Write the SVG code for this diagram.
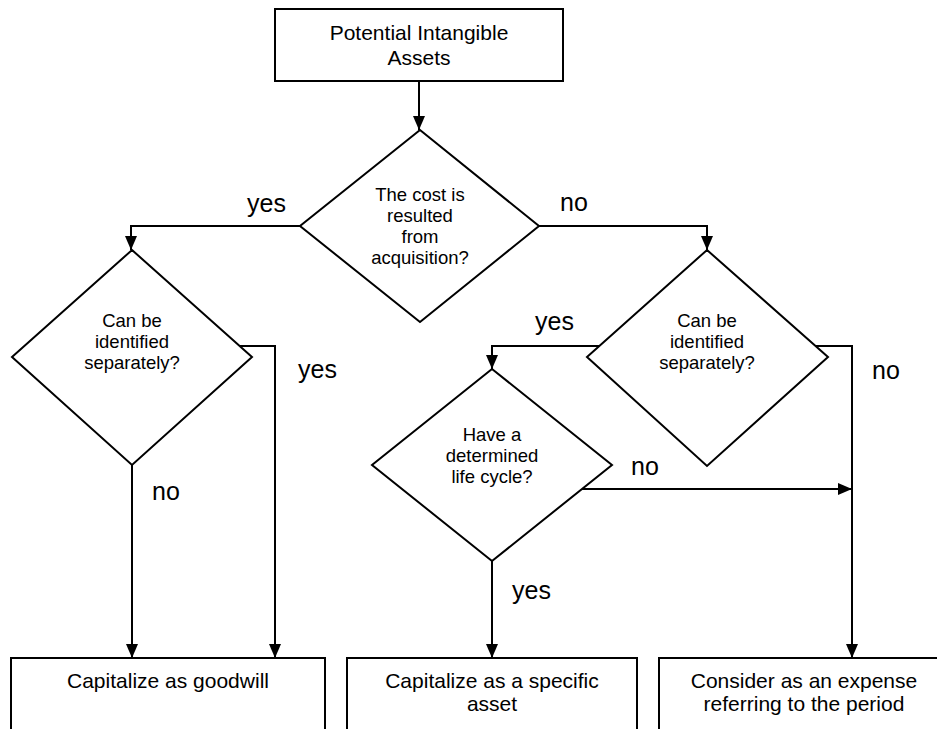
<svg xmlns="http://www.w3.org/2000/svg" width="937" height="729" viewBox="0 0 937 729">
<style>
.shape{fill:#fff;stroke:#000;stroke-width:2}
.conn{fill:none;stroke:#000;stroke-width:2}
text{font-family:"Liberation Sans",Arial,sans-serif;fill:#000;text-anchor:middle}
.dt{font-size:18.5px}
.bt{font-size:21px}
.lb{font-size:25px;text-anchor:start}
</style>
<defs>
<marker id="arr" markerUnits="userSpaceOnUse" markerWidth="14" markerHeight="12" refX="14" refY="6" orient="auto">
<path d="M0,0 L14,6 L0,12 Z" fill="#000"/>
</marker>
</defs>
<rect width="937" height="729" fill="#fff"/>
<g id="connectors">
<path class="conn" d="M419,81 V130" marker-end="url(#arr)"/>
<path class="conn" d="M300,226 H131 V250" marker-end="url(#arr)"/>
<path class="conn" d="M539,226 H707 V250" marker-end="url(#arr)"/>
<path class="conn" d="M132,465 V658" marker-end="url(#arr)"/>
<path class="conn" d="M240,346 H275 V658" marker-end="url(#arr)"/>
<path class="conn" d="M815,346 H852 V658" marker-end="url(#arr)"/>
<path class="conn" d="M599,346 H492 V369" marker-end="url(#arr)"/>
<path class="conn" d="M492,561 V658" marker-end="url(#arr)"/>
<path class="conn" d="M582,489 H852" marker-end="url(#arr)"/>
</g>
<g id="labels">
<text class="lb" x="247" y="212">yes</text>
<text class="lb" x="560" y="211">no</text>
<text class="lb" x="535" y="330">yes</text>
<text class="lb" x="298" y="378">yes</text>
<text class="lb" x="872" y="379">no</text>
<text class="lb" x="152" y="500">no</text>
<text class="lb" x="631" y="475">no</text>
<text class="lb" x="512" y="599">yes</text>
</g>
<g id="start">
<rect class="shape" x="275" y="9" width="288" height="72"/>
<text class="bt" x="419" y="40">Potential Intangible</text>
<text class="bt" x="419" y="65">Assets</text>
</g>
<g id="q-acquisition">
<polygon class="shape" points="420,130 539,226 420,322 300,226"/>
<text class="dt" x="420" y="200.5">The cost is</text>
<text class="dt" x="420" y="221.5">resulted</text>
<text class="dt" x="420" y="242.5">from</text>
<text class="dt" x="420" y="263.5">acquisition?</text>
</g>
<g id="q-identified-left">
<polygon class="shape" points="132,250 252,357 132,465 12,357"/>
<text class="dt" x="132" y="326.5">Can be</text>
<text class="dt" x="132" y="347.5">identified</text>
<text class="dt" x="132" y="368.5">separately?</text>
</g>
<g id="q-identified-right">
<polygon class="shape" points="707,250 828,357 707,466 587,357"/>
<text class="dt" x="707" y="326.5">Can be</text>
<text class="dt" x="707" y="347.5">identified</text>
<text class="dt" x="707" y="368.5">separately?</text>
</g>
<g id="q-lifecycle">
<polygon class="shape" points="492,369 612,465 492,561 372,465"/>
<text class="dt" x="492" y="440.5">Have a</text>
<text class="dt" x="492" y="461.5">determined</text>
<text class="dt" x="492" y="482.5">life cycle?</text>
</g>
<g id="goodwill">
<rect class="shape" x="11" y="658" width="314" height="90"/>
<text class="bt" x="168" y="688">Capitalize as goodwill</text>
</g>
<g id="specific-asset">
<rect class="shape" x="347" y="658" width="290" height="90"/>
<text class="bt" x="492" y="688">Capitalize as a specific</text>
<text class="bt" x="492" y="711">asset</text>
</g>
<g id="expense">
<rect class="shape" x="659" y="658" width="290" height="90"/>
<text class="bt" x="804" y="688">Consider as an expense</text>
<text class="bt" x="804" y="711">referring to the period</text>
</g>
</svg>
